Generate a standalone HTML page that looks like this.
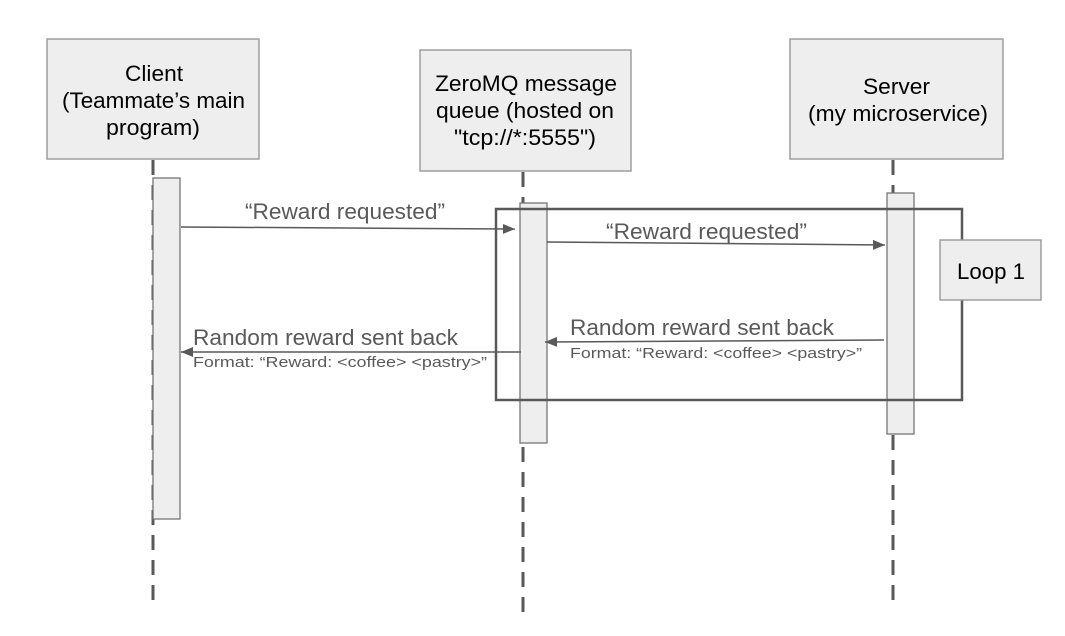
<!DOCTYPE html>
<html><head><meta charset="utf-8"><style>
html,body{margin:0;padding:0;background:#fff;}
svg{display:block;}
text{font-family:"Liberation Sans",Arial,sans-serif;}
</style></head><body>
<svg width="1065" height="636" viewBox="0 0 1065 636" xmlns="http://www.w3.org/2000/svg">
<defs>
<marker id="a" markerWidth="12" markerHeight="10" refX="12" refY="5" orient="auto" markerUnits="userSpaceOnUse">
<path d="M0,0 L12,5 L0,10 z" fill="#595959"/></marker>
</defs>
<g stroke="#595959" stroke-width="3" stroke-dasharray="15,10" fill="none">
<line x1="153" y1="160" x2="153" y2="610"/>
<line x1="523" y1="172" x2="523" y2="615"/>
<line x1="893" y1="160" x2="893" y2="610"/>
</g>
<g fill="#eeeeee" stroke="#9e9e9e" stroke-width="1.5">
<rect x="47" y="39" width="212" height="120"/>
<rect x="420" y="50" width="211" height="121"/>
<rect x="790" y="39" width="213" height="120"/>
</g>
<g fill="#eeeeee" stroke="#757575" stroke-width="1.3">
<rect x="153" y="178" width="27" height="341"/>
<rect x="520" y="203" width="27" height="240"/>
<rect x="887" y="193" width="27" height="241"/>
</g>
<rect x="496" y="209" width="466" height="191" fill="none" stroke="#595959" stroke-width="2.5"/>
<rect x="940" y="240" width="101" height="60" fill="#eeeeee" stroke="#9e9e9e" stroke-width="1.5"/>
<text x="957" y="279" font-size="22" textLength="68" lengthAdjust="spacingAndGlyphs" fill="#000">Loop 1</text>
<g font-size="22" fill="#000" lengthAdjust="spacingAndGlyphs">
<text x="125" y="81" textLength="58" lengthAdjust="spacingAndGlyphs">Client</text>
<text x="62" y="108" textLength="183" lengthAdjust="spacingAndGlyphs">(Teammate’s main</text>
<text x="106" y="135" textLength="94" lengthAdjust="spacingAndGlyphs">program)</text>
<text x="435" y="91" textLength="182" lengthAdjust="spacingAndGlyphs">ZeroMQ message</text>
<text x="436" y="118" textLength="178" lengthAdjust="spacingAndGlyphs">queue (hosted on</text>
<text x="454" y="145" textLength="142" lengthAdjust="spacingAndGlyphs">"tcp://*:5555")</text>
<text x="863" y="94" textLength="67" lengthAdjust="spacingAndGlyphs">Server</text>
<text x="808" y="121" textLength="180" lengthAdjust="spacingAndGlyphs">(my microservice)</text>
</g>
<g stroke="#595959" stroke-width="1.5" fill="none">
<line x1="181" y1="227" x2="515" y2="229" marker-end="url(#a)"/>
<line x1="547" y1="242" x2="885" y2="245" marker-end="url(#a)"/>
<line x1="884" y1="340" x2="545" y2="342" marker-end="url(#a)"/>
<line x1="521" y1="352" x2="181" y2="352" marker-end="url(#a)"/>
</g>
<g fill="#595959">
<text x="245" y="219" font-size="22" textLength="200" lengthAdjust="spacingAndGlyphs">“Reward requested”</text>
<text x="606" y="239" font-size="22" textLength="201" lengthAdjust="spacingAndGlyphs">“Reward requested”</text>
<text x="570" y="335" font-size="22" textLength="264" lengthAdjust="spacingAndGlyphs">Random reward sent back</text>
<text x="570" y="358" font-size="15" textLength="292" lengthAdjust="spacingAndGlyphs">Format: “Reward: &lt;coffee&gt; &lt;pastry&gt;”</text>
<text x="193" y="345" font-size="22" textLength="265" lengthAdjust="spacingAndGlyphs">Random reward sent back</text>
<text x="193" y="367" font-size="15" textLength="294" lengthAdjust="spacingAndGlyphs">Format: “Reward: &lt;coffee&gt; &lt;pastry&gt;”</text>
</g>
</svg>
</body></html>
